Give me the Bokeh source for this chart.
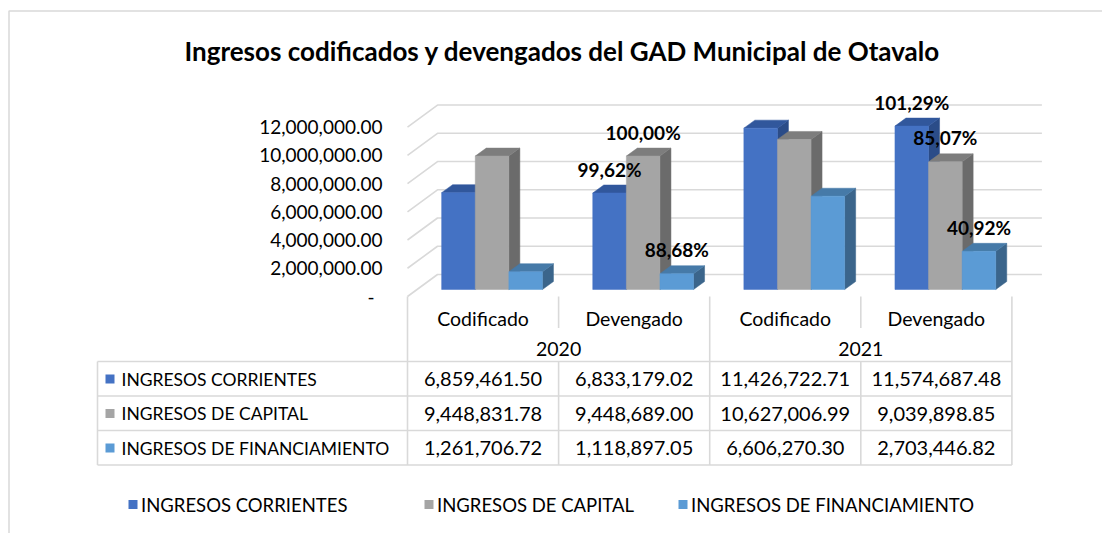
from bokeh.plotting import figure
from bokeh.models import Range1d
from bokeh.embed import file_html
from bokeh.resources import INLINE
from bokeh.core.properties import value

# ---------------- data ----------------
categories = ["Codificado", "Devengado", "Codificado", "Devengado"]
years = ["2020", "2021"]
series_names = ["INGRESOS CORRIENTES", "INGRESOS DE CAPITAL", "INGRESOS DE FINANCIAMIENTO"]
corrientes = [6859461.50, 6833179.02, 11426722.71, 11574687.48]
capital = [9448831.78, 9448689.00, 10627006.99, 9039898.85]
financiamiento = [1261706.72, 1118897.05, 6606270.30, 2703446.82]
pct_2020_dev = ["99,62%", "100,00%", "88,68%"]
pct_2021_dev = ["101,29%", "85,07%", "40,92%"]
y_ticks = [0, 2000000, 4000000, 6000000, 8000000, 10000000, 12000000]
y_tick_labels = ["-", "2,000,000.00", "4,000,000.00", "6,000,000.00",
                 "8,000,000.00", "10,000,000.00", "12,000,000.00"]
title_text = "Ingresos codificados y devengados del GAD Municipal de Otavalo"

series = [corrientes, capital, financiamiento]
front_colors = ["#4472C4", "#A5A5A5", "#5B9BD5"]
top_colors = ["#31579c", "#7d7d7d", "#467aa8"]
side_colors = ["#2b4c88", "#6b6b6b", "#3b658b"]

# ---------------- layout constants (page pixels) ----------------
W, H, OFF = 1102, 533, 0
PX_CAT = 151.1          # pixels per category
X_BAR0 = 416.0          # left edge of category 0 in bar plane
Y_BASE = 289.0          # value 0 in bar plane
PX_VAL = 14.12e-6       # pixels per unit value
FONT = value("Lato")
GRID = "#d9d9d9"
TXT = "#000000"


def fx(X):
    return (X - X_BAR0) / PX_CAT


def fy(Y):
    return (Y_BASE - Y) / PX_VAL


def dxp(px):
    return px / PX_CAT


def dyp(px):
    return px / PX_VAL


p = figure(width=W, height=H, output_backend="svg", toolbar_location=None,
           x_range=Range1d(fx(OFF), fx(OFF + W)), y_range=Range1d(fy(OFF + H), fy(OFF)),
           x_axis_location=None, y_axis_location=None, min_border=0,
           outline_line_color=None, background_fill_color="white")
p.grid.visible = False

# outer chart border (left & top visible)
p.line([fx(8.5), fx(8.5), fx(OFF + W)], [fy(OFF + H), fy(10.5), fy(10.5)],
       line_color=GRID, line_width=1.5)

# title
p.text(x=[fx(562)], y=[fy(50)], text=[title_text], text_font=FONT, text_font_size="26px",
       text_font_style="bold", text_align="center", text_baseline="middle", text_color=TXT)

# ---------------- 3D walls / gridlines ----------------
FRONT_DX, FRONT_DY = -9, -7   # floor front relative to bar plane (px)
BACK_DX, BACK_DY = 21, 15     # back wall relative to bar plane (px)
n_cat = len(categories)
gx, gy = [], []
for v in y_ticks:
    gx.append([dxp(FRONT_DX), dxp(BACK_DX), n_cat + dxp(BACK_DX)])
    gy.append([v + dyp(FRONT_DY), v + dyp(BACK_DY), v + dyp(BACK_DY)])
p.multi_line(gx, gy, line_color=GRID, line_width=1.6)

# y tick labels
lab_x = [fx(374) if t == "-" else fx(382) for t in y_tick_labels]
p.text(x=lab_x, y=[v + dyp(FRONT_DY) for v in y_ticks], text=y_tick_labels,
       text_font=FONT, text_font_size="19px", text_align="right", text_baseline="middle",
       text_color=TXT)

# ---------------- bars ----------------
BW = 33.6 / PX_CAT
DDX, DDY = dxp(11), dyp(8)
sx, sy, sc = [], [], []
for k in range(n_cat):
    for j, s in enumerate(series):
        v = s[k]
        c = k + 0.5 + (j - 1) * BW
        l, r = c - BW / 2, c + BW / 2
        # side face
        sx.append([r, r + DDX, r + DDX, r])
        sy.append([0, DDY, v + DDY, v])
        sc.append(side_colors[j])
        # top face
        sx.append([l, r, r + DDX, l + DDX])
        sy.append([v, v, v + DDY, v + DDY])
        sc.append(top_colors[j])
p.patches(sx, sy, fill_color=sc, line_color=sc, line_width=0.5)

for j, s in enumerate(series):
    xs = [k + 0.5 + (j - 1) * BW for k in range(n_cat)]
    p.vbar(x=xs, top=s, bottom=0, width=BW, fill_color=front_colors[j],
           line_color=front_colors[j], line_width=0.5)

# percentage labels on Devengado bars
for k, labels in [(1, pct_2020_dev), (3, pct_2021_dev)]:
    xs = [k + 0.5 + (j - 1) * BW for j in range(3)]
    ys = [series[j][k] + dyp(24) for j in range(3)]
    p.text(x=xs, y=ys, text=labels, text_font=FONT, text_font_size="19px",
           text_font_style="bold", text_align="center", text_baseline="middle",
           text_color=TXT)

# ---------------- data table ----------------
def cell_x(k):
    return k + dxp(FRONT_DX)  # left edge of cell k in floor-front plane


Y_TOP = 296
Y_CAT, Y_YEAR = 318, 348.5
ROW_LINES = [361, 395.5, 430, 464.5]
ROW_CENTERS = [378.5, 413, 447.5]
X_LEFT = 97

tx, ty = [], []
# vertical lines
for k in range(n_cat + 1):
    if k % 2 == 0:
        tx.append([cell_x(k), cell_x(k)])
        ty.append([fy(Y_TOP), fy(ROW_LINES[-1])])
    else:
        tx.append([cell_x(k), cell_x(k)])
        ty.append([fy(Y_TOP), fy(327.5)])
        tx.append([cell_x(k), cell_x(k)])
        ty.append([fy(ROW_LINES[0]), fy(ROW_LINES[-1])])
tx.append([fx(X_LEFT), fx(X_LEFT)])
ty.append([fy(ROW_LINES[0]), fy(ROW_LINES[-1])])
for yl in ROW_LINES:
    tx.append([fx(X_LEFT), cell_x(n_cat)])
    ty.append([fy(yl), fy(yl)])
p.multi_line(tx, ty, line_color=GRID, line_width=1.6)

# category & year labels
p.text(x=[cell_x(k) + 0.5 for k in range(n_cat)], y=[fy(Y_CAT)] * n_cat, text=categories,
       text_font=FONT, text_font_size="19.5px", text_align="center", text_baseline="middle",
       text_color=TXT)
p.text(x=[cell_x(2 * i) + 1 for i in range(len(years))], y=[fy(Y_YEAR)] * len(years), text=years,
       text_font=FONT, text_font_size="19.5px", text_align="center", text_baseline="middle",
       text_color=TXT)

# row labels with colour keys
p.scatter(x=[fx(109.5)] * 3, y=[fy(yc) for yc in ROW_CENTERS], marker="square", size=9,
          fill_color=front_colors, line_color=None)
p.text(x=[fx(121)] * 3, y=[fy(yc) for yc in ROW_CENTERS], text=series_names,
       text_font=FONT, text_font_size="17.5px", text_align="left", text_baseline="middle",
       text_color=TXT)

# cell values
vx, vy, vt = [], [], []
for j, s in enumerate(series):
    for k in range(n_cat):
        vx.append(cell_x(k) + 0.5)
        vy.append(fy(ROW_CENTERS[j]))
        vt.append(f"{s[k]:,.2f}")
p.text(x=vx, y=vy, text=vt, text_font=FONT, text_font_size="20px", text_align="center",
       text_baseline="middle", text_color=TXT)

# ---------------- legend ----------------
LEG_SQ = [132.5, 428.5, 682.5]
Y_LEG = 504
p.scatter(x=[fx(xq) for xq in LEG_SQ], y=[fy(Y_LEG)] * 3, marker="square", size=9,
          fill_color=front_colors, line_color=None)
p.text(x=[fx(xq + 8) for xq in LEG_SQ], y=[fy(Y_LEG)] * 3, text=series_names,
       text_font=FONT, text_font_size="18.5px", text_align="left", text_baseline="middle",
       text_color=TXT)

open("out.html", "w").write(file_html(p, INLINE))
